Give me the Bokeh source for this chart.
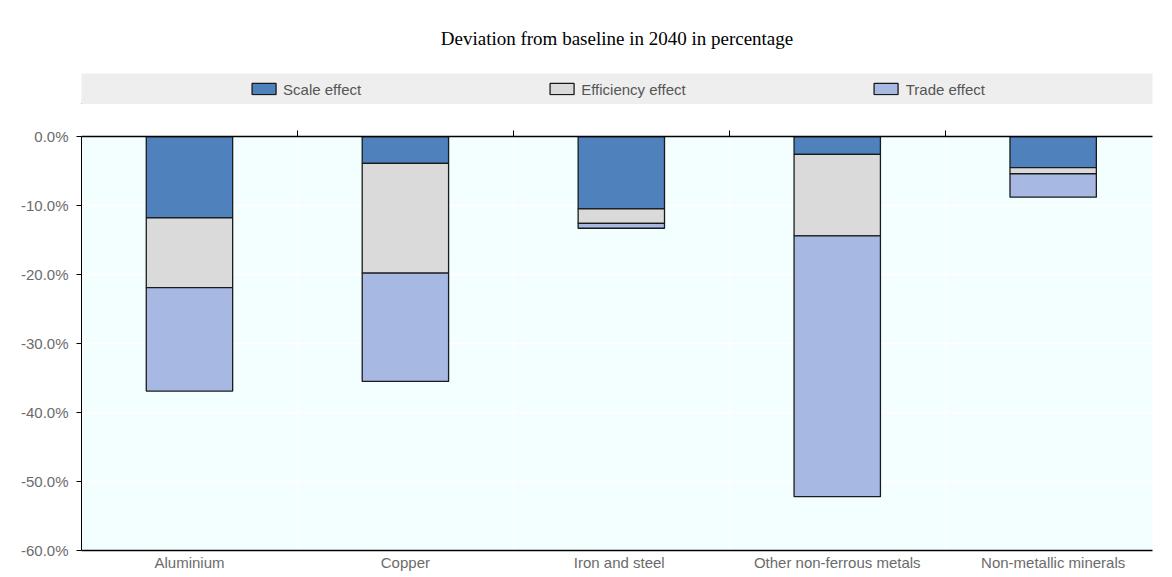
from bokeh.plotting import figure
from bokeh.layouts import column
from bokeh.models import (ColumnDataSource, Legend, LegendItem, FixedTicker,
                          LinearAxis, Range1d)
from bokeh.embed import file_html
from bokeh.resources import INLINE

sectors = ["Aluminium", "Copper", "Iron and  steel", "Other non-ferrous metals", "Non-metallic minerals"]
scale = [-11.8, -3.9, -10.5, -2.6, -4.5]
efficiency = [-10.1, -15.9, -2.1, -11.8, -0.9]
trade = [-15.0, -15.7, -0.7, -37.8, -3.4]
y_ticks = [0, -10, -20, -30, -40, -50, -60]

names = ["Scale effect", "Efficiency effect", "Trade effect"]
colors = ["#4F81BD", "#DADADA", "#A7B9E3"]

FONT = "Liberation Sans"
x = [i + 0.5 for i in range(len(sectors))]

# legend strip (with title)
lf = figure(width=1164, height=104, output_backend="svg", toolbar_location=None,
            x_range=Range1d(0, 1), y_range=Range1d(0, 1),
            min_border_left=81, min_border_right=12, min_border_top=3, min_border_bottom=0)
lf.title.text = "Deviation from baseline in 2040 in percentage"
lf.title.align = "center"
lf.title.text_font = "Liberation Serif"
lf.title.text_font_style = "normal"
lf.title.text_font_size = "19px"
lf.title.text_color = "black"
lf.title.standoff = 50
lf.axis.visible = False
lf.grid.visible = False
lf.outline_line_color = None
lf.background_fill_color = "#EEEEEE"
dummy = []
for c in colors:
    # off-screen placeholder glyphs, only used for the legend swatches
    dummy.append(lf.vbar(x=[-5], top=[-5], bottom=[-6], width=0.1,
                         fill_color=c, line_color="#1a1a1a", line_width=1.3))
legend = Legend(items=[LegendItem(label=n, renderers=[r]) for n, r in zip(names, dummy)],
                orientation="horizontal", location="center",
                background_fill_alpha=0, border_line_color=None, spacing=185, padding=0,
                margin=0, glyph_width=30, glyph_height=14,
                label_text_font=FONT, label_text_font_size="15px", label_text_color="#555555")
lf.add_layout(legend, "center")

p = figure(width=1164, height=469, output_backend="svg", toolbar_location=None,
           x_range=Range1d(0, 4.96), y_range=Range1d(-60, 0),
           min_border_left=81, min_border_right=0, min_border_top=32, min_border_bottom=0)
p.background_fill_color = "#F3FEFF"
p.outline_line_color = None

bottom = [0.0] * len(sectors)
for vals, c in zip([scale, efficiency, trade], colors):
    top = bottom
    new_bottom = [b + v for b, v in zip(bottom, vals)]
    src = ColumnDataSource(dict(x=x, top=top, bottom=new_bottom))
    p.vbar(x="x", top="top", bottom="bottom", width=0.4, source=src,
           fill_color=c, line_color="#1a1a1a", line_width=1.3)
    bottom = new_bottom

# y axis
p.yaxis.ticker = FixedTicker(ticks=y_ticks)
p.yaxis.major_label_overrides = {v: f"{v:.1f}%" for v in y_ticks}
p.yaxis.axis_line_color = "black"
p.yaxis.major_tick_line_color = "black"
p.yaxis.major_tick_out = 5
p.yaxis.major_tick_in = 0
p.yaxis.minor_tick_line_color = None
p.yaxis.major_label_text_font = FONT
p.yaxis.major_label_text_font_size = "15px"
p.yaxis.major_label_text_color = "#6b6b6b"
p.yaxis.major_label_standoff = 8

# x axis
p.xaxis.ticker = FixedTicker(ticks=x)
p.xaxis.major_label_overrides = {xi: s for xi, s in zip(x, sectors)}
p.xaxis.axis_line_color = "black"
p.xaxis.axis_line_width = 1.5
p.xaxis.major_tick_line_color = None
p.xaxis.major_tick_out = 0
p.xaxis.minor_tick_line_color = None
p.xaxis.major_label_text_font = FONT
p.xaxis.major_label_text_font_size = "15px"
p.xaxis.major_label_text_color = "#6b6b6b"
p.xaxis.major_label_standoff = 3

top_axis = LinearAxis(ticker=FixedTicker(ticks=[1, 2, 3, 4]), major_label_text_alpha=0,
                      major_label_text_font_size="1px",
                      axis_line_color="black", axis_line_width=1.5, major_tick_line_color="black",
                      major_tick_out=6, major_tick_in=0, minor_tick_line_color=None,
                      major_label_standoff=0)
p.add_layout(top_axis, "above")

p.xgrid.ticker = FixedTicker(ticks=[1, 2, 3, 4])
p.xgrid.grid_line_color = "white"
p.ygrid.grid_line_color = "white"
p.ygrid.grid_line_width = 1.5

open("out.html", "w").write(file_html(column(lf, p), INLINE))
